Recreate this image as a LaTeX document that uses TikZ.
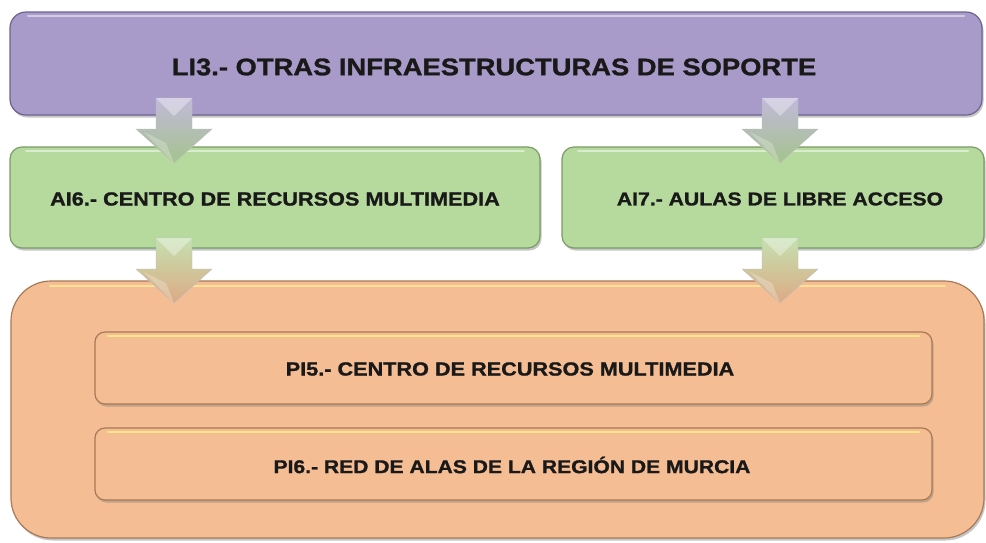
\documentclass[tikz,border=0pt]{standalone}
\usepackage{fontspec}
\setmainfont{Liberation Sans}
\newfontfamily\widefont[FakeStretch=1.14, FakeBold=1.2]{Liberation Sans Bold}
\usetikzlibrary{shadows}
\definecolor{purp}{HTML}{A89BC9}
\definecolor{purpd}{HTML}{6E6390}
\definecolor{grn}{HTML}{B6D99D}
\definecolor{grnd}{HTML}{7A9C66}
\definecolor{org}{HTML}{F5BD93}
\definecolor{orgd}{HTML}{A87A58}
\tikzset{
  box/.style={rounded corners=#1, line width=1.2pt, drop shadow={shadow xshift=1.5pt,shadow yshift=-2.5pt,opacity=0.45}},
  lbl/.style={text=black!90},
  fatarrow/.style={draw=black!25, line width=0.4pt},
}
\newcommand{\fatarrowat}[3]{% coordinate, top color, bottom color
  \path[fatarrow, top color=#2, bottom color=#3, shading angle=0]
    ([shift={(-18,0)}]#1) -- ([shift={(-18,31)}]#1) -- ([shift={(-38,31)}]#1)
    -- ([shift={(0,65)}]#1) -- ([shift={(38,31)}]#1) -- ([shift={(18,31)}]#1)
    -- ([shift={(18,0)}]#1) -- cycle;
  \fill[white, opacity=0.35] ([shift={(-18,0)}]#1) -- ([shift={(0,18)}]#1) -- ([shift={(18,0)}]#1) -- cycle;
  \fill[white, opacity=0.25] ([shift={(-30,34)}]#1) -- ([shift={(0,65)}]#1) -- ([shift={(-8,45)}]#1) -- cycle;
}
\begin{document}
\begin{tikzpicture}[x=1pt,y=-1pt]
\useasboundingbox (0,0) rectangle (986,542);
\fill[white] (0,0) rectangle (986,542);
% top
\draw[box=16pt, draw=purpd, fill=purp] (10,12) rectangle (982,115);
\draw[white, opacity=0.5, line width=2pt, line cap=round] (28,16) -- (964,16);
\node[lbl, font=\widefont\fontsize{24}{28}\selectfont] (top) at (494,67) {LI3.- OTRAS INFRAESTRUCTURAS DE SOPORTE};
% green
\draw[box=12pt, draw=grnd, fill=grn] (10,147) rectangle (540,248);
\draw[white, opacity=0.5, line width=2pt, line cap=round] (26,151) -- (524,151);
\node[lbl, font=\widefont\fontsize{19}{22}\selectfont] (ai6) at (275,199) {AI6.- CENTRO DE RECURSOS MULTIMEDIA};
\draw[box=12pt, draw=grnd, fill=grn] (562,147) rectangle (984,248);
\draw[white, opacity=0.5, line width=2pt, line cap=round] (578,151) -- (968,151);
\node[lbl, font=\widefont\fontsize{18.6}{22}\selectfont] (ai7) at (780,199) {AI7.- AULAS DE LIBRE ACCESO};
% orange
\draw[box=40pt, draw=orgd, fill=org] (11,281) rectangle (984,538);
\draw[yellow!40!white, opacity=0.6, line width=2pt, line cap=round] (50,286) -- (945,286);
\draw[box=10pt, draw=orgd, fill=org] (95,332) rectangle (932,404);
\draw[yellow!50!white, opacity=0.7, line width=2pt, line cap=round] (108,336) -- (919,336);
\node[lbl, font=\widefont\fontsize{19}{22}\selectfont] (pi5) at (510,369) {PI5.- CENTRO DE RECURSOS MULTIMEDIA};
\draw[box=10pt, draw=orgd, fill=org] (95,428) rectangle (932,500);
\draw[yellow!50!white, opacity=0.7, line width=2pt, line cap=round] (108,432) -- (919,432);
\node[lbl, font=\widefont\fontsize{18.5}{22}\selectfont] (pi6) at (512,465) {PI6.- RED DE ALAS DE LA REGIÓN DE MURCIA};
% arrows
\coordinate (a1) at (174,98);
\coordinate (a2) at (780,98);
\coordinate (a3) at (174,238);
\coordinate (a4) at (780,238);
\fatarrowat{a1}{purp!70!white}{grn!90!black}
\fatarrowat{a2}{purp!70!white}{grn!90!black}
\fatarrowat{a3}{grn!80!white}{org!90!black}
\fatarrowat{a4}{grn!80!white}{org!90!black}
\end{tikzpicture}
\end{document}
